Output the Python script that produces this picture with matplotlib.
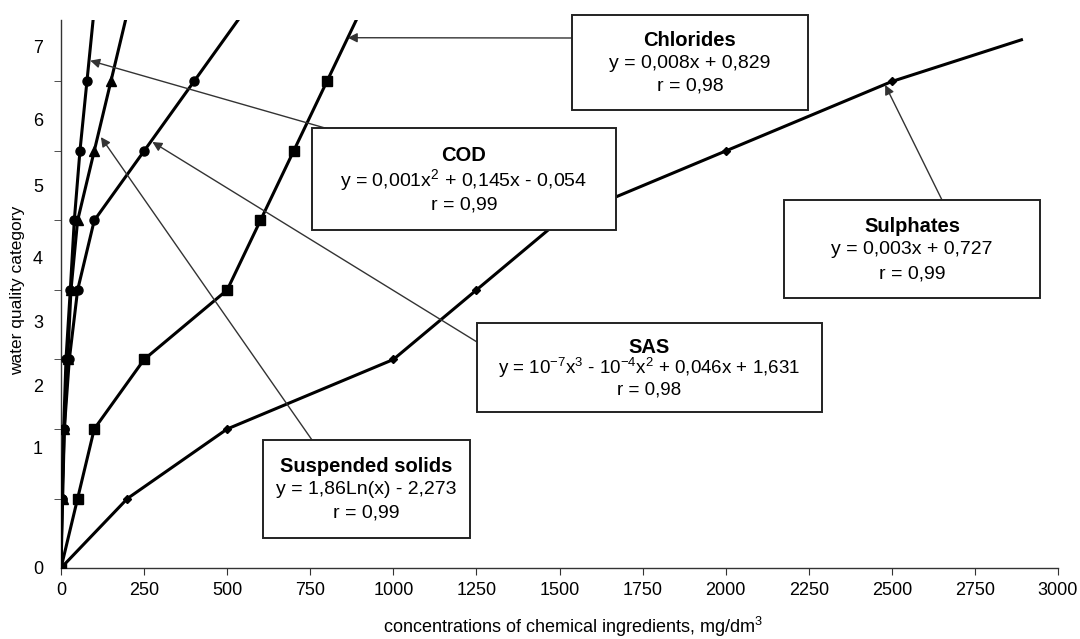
import matplotlib
matplotlib.use('Agg')
import matplotlib.pyplot as plt
from matplotlib.patches import Rectangle

plt.rcParams['font.family'] = ['Liberation Sans', 'DejaVu Sans']
plt.rcParams['mathtext.default'] = 'regular'

# water quality category levels (0..7)
levels = [0, 1, 2, 3, 4, 5, 6, 7]

# concentrations, mg/dm3, at each level
chlorides = [0, 50, 100, 250, 500, 600, 700, 800]
sulphates = [0, 200, 500, 1000, 1250, 1500, 2000, 2500]
cod = [0, 3, 8, 15, 28, 40, 57, 78]
sas = [0, 3, 10, 25, 50, 100, 250, 400]
susp = [0, 5, 10, 20, 30, 50, 100, 150]

# where each line runs on past the last point
ext_x = {'chl': 900, 'sul': 2890, 'cod': 99, 'sas': 550, 'sus': 200}
ext_y = {'chl': 8, 'sul': 7.6, 'cod': 8, 'sas': 8, 'sus': 8}

ytick_labels = ['0', '1', '2', '3', '4', '5', '6', '7']
ytick_label_pos = [0, 1.73, 2.63, 3.54, 4.47, 5.51, 6.45, 7.5]
xticks = list(range(0, 3001, 250))

W, H = 1080, 639
fig = plt.figure(figsize=(W / 100, H / 100), dpi=100)
L, R, B, T = 61, 1058, 568, 20
ax = fig.add_axes([L / W, 1 - B / H, (R - L) / W, (B - T) / H])

def series(xs, key, marker, ms):
    x = xs + [ext_x[key]]
    y = levels + [ext_y[key]]
    ax.plot(x, y, color='black', lw=2.2, marker=marker, ms=ms,
            markevery=slice(0, len(levels)), zorder=3, clip_on=True)

series(sulphates, 'sul', 'D', 4.5)
series(chlorides, 'chl', 's', 6.5)
series(sas, 'sas', 'o', 6.5)
series(susp, 'sus', '^', 6.5)
series(cod, 'cod', 'o', 6.5)

ax.set_xlim(0, 3000)
ax.set_ylim(0, (B - T) / 69.5)
ax.spines['top'].set_visible(False)
ax.spines['right'].set_visible(False)
for s in ['left', 'bottom']:
    ax.spines[s].set_linewidth(1.0)
    ax.spines[s].set_color('#333333')

ax.set_xticks(xticks)
ax.set_xticklabels([str(v) for v in xticks], fontsize=13)
ax.tick_params(axis='x', direction='out', length=5, pad=5, color='#333333')

ax.set_yticks(ytick_label_pos)
ax.set_yticklabels(ytick_labels, fontsize=13)
ax.set_yticks(levels, minor=True)
ax.tick_params(axis='y', which='major', length=0, pad=13)
ax.tick_params(axis='y', which='minor', direction='out', length=5, color='#333333')

fig.text(573 / W, 1 - 627 / H, 'concentrations of chemical ingredients, mg/dm$^3$',
         ha='center', va='center', fontsize=13)
fig.text(18 / W, 1 - 290 / H, 'water quality category', rotation=90,
         ha='center', va='center', fontsize=12.5)

# annotation boxes: (x0, y0, x1, y1) in pixels, title, equation, r, arrow start px, arrow tip data
boxes = [
    ((572, 15, 808, 110), 'Chlorides', 'y = 0,008x + 0,829', 'r = 0,98',
     (572, 38), (863, 7.63)),
    ((312, 128, 616, 230), 'COD', 'y = 0,001x$^2$ + 0,145x - 0,054', 'r = 0,99',
     (332, 130), (88, 7.3)),
    ((477, 323, 822, 412), 'SAS', 'y = 10$^{-7}$x$^3$ - 10$^{-4}$x$^2$ + 0,046x + 1,631', 'r = 0,98',
     (477, 342), (275, 6.13)),
    ((263, 440, 470, 538), 'Suspended solids', 'y = 1,86Ln(x) - 2,273', 'r = 0,99',
     (312, 440), (120, 6.2)),
    ((784, 200, 1040, 298), 'Sulphates', 'y = 0,003x + 0,727', 'r = 0,99',
     (942, 200), (2480, 6.95)),
]

for (x0, y0, x1, y1), title, eq, r, start, tip in boxes:
    ax.annotate('', xy=tip, xycoords='data',
                xytext=(start[0], H - start[1]), textcoords='figure pixels',
                arrowprops=dict(arrowstyle='-|>', color='#333333', lw=1.0,
                                mutation_scale=14, shrinkA=0, shrinkB=0),
                zorder=4, annotation_clip=False)
    rect = Rectangle((x0 / W, 1 - y1 / H), (x1 - x0) / W, (y1 - y0) / H,
                     transform=fig.transFigure, facecolor='white',
                     edgecolor='#222222', lw=1.4, zorder=5)
    fig.add_artist(rect)
    cx = (x0 + x1) / 2 / W
    h = y1 - y0
    fs = 14 if title != 'SAS' else 13.5
    fig.text(cx, 1 - (y0 + h * 0.27) / H, title, ha='center', va='center',
             fontsize=14.5, fontweight='bold', zorder=6)
    fig.text(cx, 1 - (y0 + h * 0.51) / H, eq, ha='center', va='center',
             fontsize=fs, zorder=6)
    fig.text(cx, 1 - (y0 + h * 0.75) / H, r, ha='center', va='center',
             fontsize=fs, zorder=6)

fig.savefig('out.png', dpi=100)
